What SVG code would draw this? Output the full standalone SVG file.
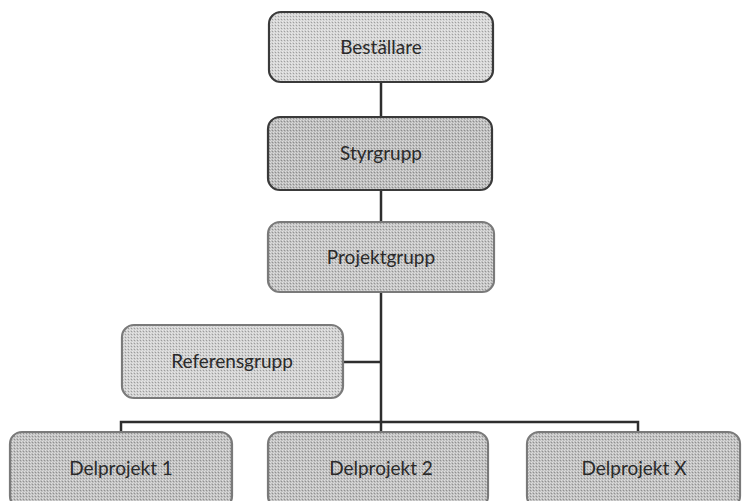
<svg xmlns="http://www.w3.org/2000/svg" width="743" height="501" viewBox="0 0 743 501">
<defs>
<pattern id="dither" width="3" height="3" patternUnits="userSpaceOnUse">
<rect x="0" y="0" width="1" height="1" fill="#ffffff" fill-opacity="0.5"/>
<rect x="2" y="1" width="1" height="1" fill="#000000" fill-opacity="0.25"/>
<rect x="1" y="2" width="1" height="1" fill="#ffffff" fill-opacity="0.4"/>
</pattern>
</defs>
<style>
.box{stroke-width:2.2}
.dark{stroke:#3a3a3a}
.mid{stroke:#7a7a7a}
.tex{fill:url(#dither);stroke:none}
.lbl{font-family:"Lato","Open Sans","Liberation Sans",sans-serif;font-size:19px;fill:#2a2a2a;text-anchor:middle}
.conn{stroke:#2e2e2e;stroke-width:2.5;fill:none}
</style>
<rect width="743" height="501" fill="#ffffff"/>
<g id="connectors">
<line class="conn" x1="381" y1="82" x2="381" y2="117"/>
<line class="conn" x1="381" y1="190" x2="381" y2="222"/>
<line class="conn" x1="381" y1="292" x2="381" y2="432"/>
<line class="conn" x1="343" y1="362" x2="381" y2="362"/>
<polyline class="conn" points="121,432 121,422 638,422 638,432"/>
</g>
<g id="bestallare">
<rect class="box dark" x="269" y="12" width="224" height="70" rx="12" fill="#d4d4d4"/>
<rect class="tex" x="270" y="13" width="222" height="68" rx="11"/>
<text class="lbl" x="381" y="54">Beställare</text>
</g>
<g id="styrgrupp">
<rect class="box dark" x="268" y="117" width="224" height="73" rx="12" fill="#bcbcbc"/>
<rect class="tex" x="269" y="118" width="222" height="71" rx="11"/>
<text class="lbl" x="381" y="160">Styrgrupp</text>
</g>
<g id="projektgrupp">
<rect class="box mid" x="268" y="222" width="226" height="70" rx="12" fill="#c4c4c4"/>
<rect class="tex" x="269" y="223" width="224" height="68" rx="11"/>
<text class="lbl" x="381" y="264">Projektgrupp</text>
</g>
<g id="referensgrupp">
<rect class="box mid" x="122" y="325" width="221" height="73" rx="12" fill="#d0d0d0"/>
<rect class="tex" x="123" y="326" width="219" height="71" rx="11"/>
<text class="lbl" x="232" y="368">Referensgrupp</text>
</g>
<g id="delprojekt1">
<rect class="box mid" x="10" y="432" width="222" height="76" rx="12" fill="#c0c0c0"/>
<rect class="tex" x="11" y="433" width="220" height="74" rx="11"/>
<text class="lbl" x="121" y="475">Delprojekt 1</text>
</g>
<g id="delprojekt2">
<rect class="box mid" x="268" y="432" width="220" height="76" rx="12" fill="#c0c0c0"/>
<rect class="tex" x="269" y="433" width="218" height="74" rx="11"/>
<text class="lbl" x="381" y="475">Delprojekt 2</text>
</g>
<g id="delprojektx">
<rect class="box mid" x="527" y="432" width="213" height="76" rx="12" fill="#c0c0c0"/>
<rect class="tex" x="528" y="433" width="211" height="74" rx="11"/>
<text class="lbl" x="634" y="475">Delprojekt X</text>
</g>
</svg>
